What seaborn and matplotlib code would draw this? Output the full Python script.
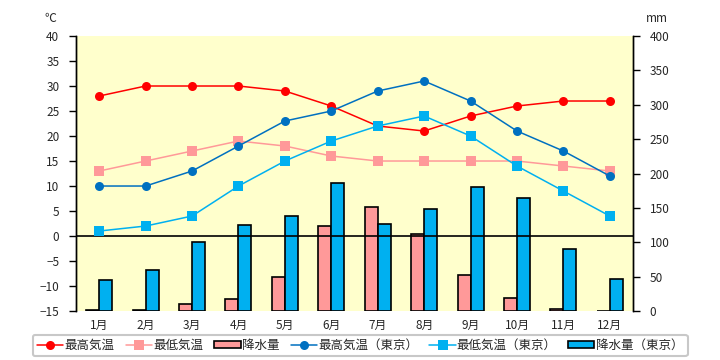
import numpy as np
import pandas as pd
import matplotlib
matplotlib.use("Agg")
import matplotlib.pyplot as plt
import seaborn as sns
from matplotlib.lines import Line2D
from matplotlib.patches import Patch

months = ["1月", "2月", "3月", "4月", "5月", "6月", "7月", "8月", "9月", "10月", "11月", "12月"]
max_temp = [28, 30, 30, 30, 29, 26, 22, 21, 24, 26, 27, 27]
min_temp = [13, 15, 17, 19, 18, 16, 15, 15, 15, 15, 14, 13]
rain = [1, 1, 10, 18, 49, 123, 151, 112, 52, 19, 3, 0]
max_temp_tokyo = [10, 10, 13, 18, 23, 25, 29, 31, 27, 21, 17, 12]
min_temp_tokyo = [1, 2, 4, 10, 15, 19, 22, 24, 20, 14, 9, 4]
rain_tokyo = [45, 60, 100, 125, 138, 186, 126, 148, 180, 164, 90, 46]

series_names = ["最高気温", "最低気温", "降水量", "最高気温（東京）", "最低気温（東京）", "降水量（東京）"]
colors = {"最高気温": "#FF0000", "最低気温": "#FF9999", "降水量": "#FF9999",
          "最高気温（東京）": "#0070C0", "最低気温（東京）": "#00B0F0", "降水量（東京）": "#00B0F0"}

sns.set_theme(style="white")
plt.rcParams['font.family'] = ['Noto Sans CJK JP', 'DejaVu Sans']

fig = plt.figure(figsize=(7.2, 3.6), dpi=100)
ax = fig.add_axes([0.1056, 0.136, 0.7736, 0.764])
ax2 = ax.twinx()
ax.set_facecolor("#FFFFCC")

# bars (precipitation) on main axis, right-side ticks
rain_df = pd.DataFrame({
    "x": list(range(12)) * 2,
    "value": rain + rain_tokyo,
    "series": ["降水量"] * 12 + ["降水量（東京）"] * 12,
})
sns.barplot(data=rain_df, x="x", y="value", hue="series", hue_order=["降水量", "降水量（東京）"],
            palette=[colors["降水量"], colors["降水量（東京）"]], width=0.56, dodge=True,
            edgecolor="black", linewidth=1.2, saturation=1, legend=False, ax=ax)

# temperature lines on twin axis
temp_df = pd.DataFrame({
    "x": list(range(12)) * 4,
    "value": max_temp + min_temp + max_temp_tokyo + min_temp_tokyo,
    "series": (["最高気温"] * 12 + ["最低気温"] * 12 + ["最高気温（東京）"] * 12 + ["最低気温（東京）"] * 12),
})
line_order = ["最高気温", "最低気温", "最高気温（東京）", "最低気温（東京）"]
markers = {"最高気温": "o", "最低気温": "s", "最高気温（東京）": "o", "最低気温（東京）": "s"}
sns.lineplot(data=temp_df, x="x", y="value", hue="series", style="series", hue_order=line_order,
             style_order=line_order, palette=[colors[s] for s in line_order], markers=markers,
             dashes=False, linewidth=1.1, markersize=6.5, markeredgewidth=0, legend=False, ax=ax2)
ax2.axhline(0, color="black", linewidth=1.2, zorder=1)

ax.set_ylim(0, 400)
ax.set_xlim(-0.5, 11.5)
ax.set_yticks(np.arange(0, 401, 50))
ax.set_xticks(range(12))
ax.set_xticklabels(months, fontsize=8.5)
ax.set_xlabel("")
ax.set_ylabel("")
ax.yaxis.set_ticks_position("right")
ax.yaxis.set_label_position("right")
ax.tick_params(axis="y", which="both", right=True, left=False, labelright=True, labelleft=False,
               direction="out", length=5, width=1, color="black", labelsize=8.5, pad=7)
ax.tick_params(axis="x", length=0, labelsize=8.5, pad=6)

ax2.set_ylim(-15, 40)
ax2.set_yticks(np.arange(-15, 41, 5))
ax2.yaxis.set_ticks_position("left")
ax2.tick_params(axis="y", which="both", left=True, right=False, labelleft=True, labelright=False,
                direction="out", length=5, width=1, color="black", labelsize=8.5, pad=7)
ax2.set_xlim(-0.5, 11.5)
ax2.set_ylabel("")
ax2.set_xlabel("")

for a in (ax, ax2):
    a.spines["top"].set_visible(False)
    a.spines["bottom"].set_visible(False)
    a.spines["left"].set_color("black")
    a.spines["right"].set_color("black")
    a.spines["left"].set_linewidth(1)
    a.spines["right"].set_linewidth(1)

fig.text(0.07, 0.95, "℃", fontsize=8.5, ha="center", va="center")
fig.text(0.913, 0.95, "mm", fontsize=8.5, ha="center", va="center")

handles = [
    Line2D([0], [0], color=colors["最高気温"], marker="o", markersize=6.5, markeredgewidth=0, linewidth=1.1),
    Line2D([0], [0], color=colors["最低気温"], marker="s", markersize=6.5, markeredgewidth=0, linewidth=1.1),
    Patch(facecolor=colors["降水量"], edgecolor="black", linewidth=1.2),
    Line2D([0], [0], color=colors["最高気温（東京）"], marker="o", markersize=6.5, markeredgewidth=0, linewidth=1.1),
    Line2D([0], [0], color=colors["最低気温（東京）"], marker="s", markersize=6.5, markeredgewidth=0, linewidth=1.1),
    Patch(facecolor=colors["降水量（東京）"], edgecolor="black", linewidth=1.2),
]
leg = fig.legend(handles, series_names, loc="center", bbox_to_anchor=(0.5, 0.04), ncol=6,
                 fontsize=9, frameon=True, fancybox=True, edgecolor="#BBBBBB",
                 handlelength=2.1, handleheight=0.5, handletextpad=0.1, columnspacing=0.9,
                 borderpad=0.35, borderaxespad=0)
leg.get_frame().set_linewidth(1.5)

fig.savefig("out.png", dpi=100)
